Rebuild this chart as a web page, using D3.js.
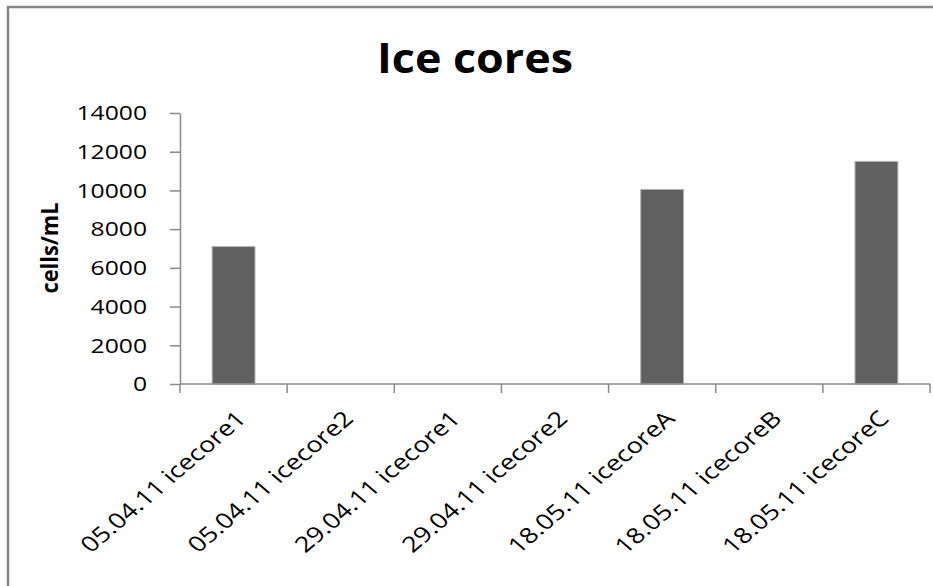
<!DOCTYPE html>
<html>
<head>
<meta charset="utf-8">
<script src="https://cdn.jsdelivr.net/npm/d3@7"></script>
<style>
  html, body { margin: 0; padding: 0; background: #fff; }
  svg { display: block; }
  text { font-family: "Open Sans", "Liberation Sans", sans-serif; fill: #000; }
</style>
</head>
<body>
<svg id="chart" width="933" height="586"></svg>
<script>
// Samples and cell counts (cells/mL)
const categories = [
  "05.04.11 icecore1", "05.04.11 icecore2", "29.04.11 icecore1",
  "29.04.11 icecore2", "18.05.11 icecoreA", "18.05.11 icecoreB",
  "18.05.11 icecoreC"
];
const cellCounts = [7100, 0, 0, 0, 10050, 0, 11500];
const yTicks = [0, 2000, 4000, 6000, 8000, 10000, 12000, 14000];
const chartTitle = "Ice cores";
const yTitle = "cells/mL";

const svg = d3.select("#chart");
const W = 933, H = 586;
const plot = { left: 180, right: 930, top: 113, bottom: 384 };
const axisColor = "#8a8a8a";

// outer chart frame (right and bottom edges fall outside the view)
svg.append("rect")
  .attr("x", 8).attr("y", 7)
  .attr("width", W + 20).attr("height", H + 20)
  .attr("fill", "#fff")
  .attr("stroke", "#858585").attr("stroke-width", 2.5);

const x = d3.scaleBand()
  .domain(categories)
  .range([plot.left, plot.right])
  .paddingInner(0.6)
  .paddingOuter(0.3);

const y = d3.scaleLinear()
  .domain([0, 14000])
  .range([plot.bottom, plot.top]);

// title
svg.append("text")
  .attr("x", 475).attr("y", 73)
  .attr("text-anchor", "middle")
  .attr("font-size", 42).attr("font-weight", 700)
  .attr("textLength", 196).attr("lengthAdjust", "spacingAndGlyphs")
  .text(chartTitle);

// y axis
const yAxis = svg.append("g")
  .attr("transform", `translate(${plot.left},0)`)
  .call(d3.axisLeft(y).tickValues(yTicks).tickSize(10).tickSizeOuter(0).tickPadding(23).tickFormat(d3.format("d")));
yAxis.select(".domain").attr("stroke", axisColor).attr("stroke-width", 1.5);
yAxis.selectAll(".tick line").attr("stroke", axisColor).attr("stroke-width", 1.5);
yAxis.selectAll(".tick text")
  .attr("font-size", 19.5)
  .attr("font-family", "Open Sans, sans-serif")
  .attr("fill", "#000")
  .attr("dy", "0.35em")
  .each(function (d) {
    const s = d3.format("d")(d);
    d3.select(this).attr("textLength", s.length * 14.1).attr("lengthAdjust", "spacingAndGlyphs");
  });

// y axis title
svg.append("text")
  .attr("transform", `translate(58,248) rotate(-90)`)
  .attr("text-anchor", "middle")
  .attr("font-size", 23).attr("font-weight", 700)
  .attr("textLength", 91).attr("lengthAdjust", "spacingAndGlyphs")
  .text(yTitle);

// bars
svg.append("g").selectAll("rect")
  .data(categories.map((c, i) => ({ c, v: cellCounts[i] })).filter(d => d.v > 0))
  .join("rect")
  .attr("x", d => x(d.c))
  .attr("y", d => y(d.v))
  .attr("width", x.bandwidth())
  .attr("height", d => y(0) - y(d.v))
  .attr("fill", "#606060")
  .attr("stroke", "#b4b4b4")
  .attr("stroke-width", 1);

// x axis: baseline and tick marks between categories
const step = x.step();
const x0 = x.range()[0];
const xAxis = svg.append("g");
xAxis.append("line")
  .attr("x1", x0).attr("x2", x.range()[1])
  .attr("y1", y(0)).attr("y2", y(0))
  .attr("stroke", axisColor).attr("stroke-width", 1.5);
xAxis.selectAll("line.tick")
  .data(d3.range(categories.length + 1))
  .join("line")
  .attr("class", "tick")
  .attr("x1", i => x0 + i * step).attr("x2", i => x0 + i * step)
  .attr("y1", y(0)).attr("y2", y(0) + 9)
  .attr("stroke", axisColor).attr("stroke-width", 1.5);

// rotated category labels, widened horizontally like the rest of the text
const labels = xAxis.selectAll("text.cat")
  .data(categories)
  .join("text")
  .attr("class", "cat")
  .attr("text-anchor", "end")
  .attr("font-size", 21.5)
  .attr("transform", d => `translate(${x(d) + x.bandwidth() / 2 + 14},${y(0) + 36}) scale(1.17,1) rotate(-45)`)
  .text(d => d);
const refLen = labels.filter(d => d === categories[5]).node().getComputedTextLength();
const k = 191 / refLen;
labels.each(function () {
  const n = this.getComputedTextLength();
  d3.select(this).attr("textLength", n * k).attr("lengthAdjust", "spacingAndGlyphs");
});
</script>
</body>
</html>
